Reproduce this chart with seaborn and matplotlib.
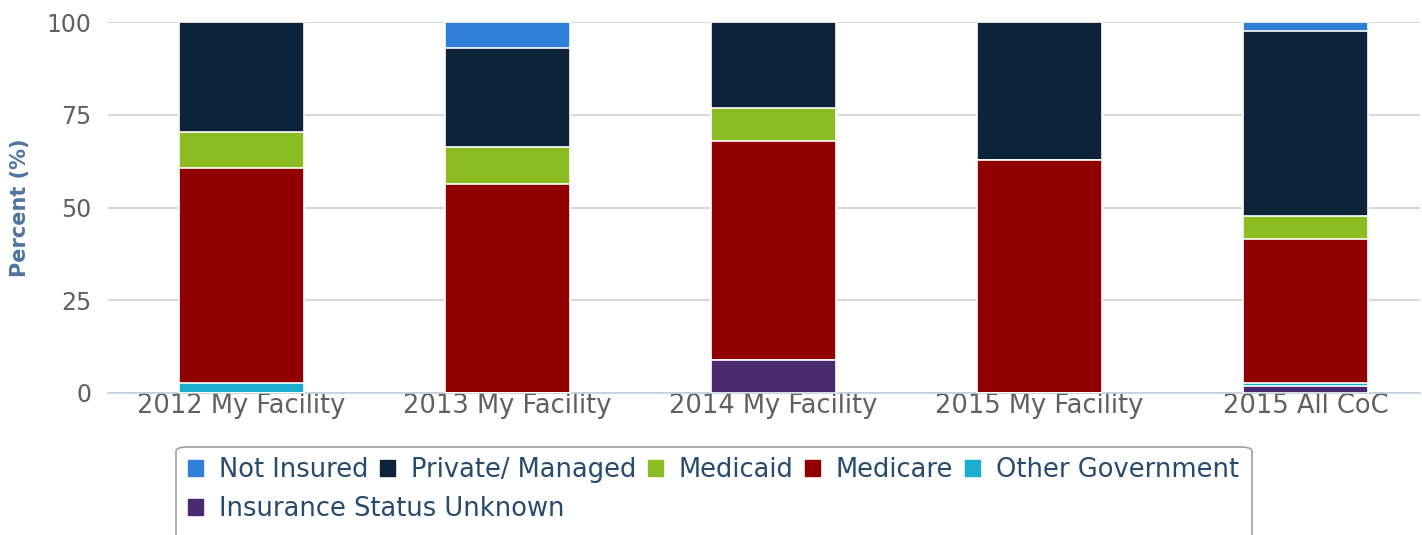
import matplotlib
matplotlib.use("Agg")
import matplotlib.pyplot as plt
import seaborn as sns
import numpy as np
import pandas as pd
from matplotlib.patches import Patch, FancyBboxPatch

categories = ["2012 My Facility", "2013 My Facility", "2014 My Facility",
              "2015 My Facility", "2015 All CoC"]

# series, in legend order (top of the stack first)
not_insured = [0.0, 6.9, 0.0, 0.0, 2.3]
private_managed = [29.6, 26.7, 23.1, 37.2, 49.9]
medicaid = [9.7, 10.1, 9.0, 0.0, 6.1]
medicare = [58.0, 56.3, 58.9, 62.8, 39.0]
other_government = [2.7, 0.0, 0.0, 0.0, 0.7]
status_unknown = [0.0, 0.0, 9.0, 0.0, 1.9]

series_names = ["Not Insured", "Private/ Managed", "Medicaid", "Medicare",
                "Other Government", "Insurance Status Unknown"]
colors = ["#2f7ed8", "#0d233a", "#8bbc21", "#910000", "#1aadce", "#492970"]

df = pd.DataFrame({
    "category": categories,
    "Not Insured": not_insured,
    "Private/ Managed": private_managed,
    "Medicaid": medicaid,
    "Medicare": medicare,
    "Other Government": other_government,
    "Insurance Status Unknown": status_unknown,
})

sns.set_style("white")
plt.rcParams["font.family"] = ["DejaVu Sans"]

fig = plt.figure(figsize=(14.22, 5.35), dpi=100)
ax = fig.add_axes([108 / 1422, 1 - 393 / 535, (1420 - 108) / 1422, (393 - 22) / 535])

# stacked bars: draw cumulative totals from the top series down
for i, name in enumerate(series_names):
    cum = df[series_names[i:]].sum(axis=1)
    sns.barplot(x=df["category"], y=cum, color=colors[i], width=0.47,
                edgecolor="white", linewidth=1.2, saturation=1, ax=ax, zorder=3)

ax.set_ylim(0, 100)
ax.set_xlim(-0.5, 4.43)
ax.set_yticks([0, 25, 50, 75, 100])
ax.yaxis.grid(True, color="#d8d8d8", linewidth=1.5, zorder=0)
ax.set_axisbelow(True)
for s in ["left", "right", "top"]:
    ax.spines[s].set_visible(False)
ax.spines["bottom"].set_color("#c0d0e0")
ax.spines["bottom"].set_linewidth(1.2)

ax.set_xticks(range(len(categories)))
ax.set_xticklabels(categories)
ax.set_xticks([0.5, 1.5, 2.5, 3.5], minor=True)
ax.tick_params(axis="x", which="major", length=0, pad=0, labelsize=18.5, labelcolor="#606060")
ax.tick_params(axis="x", which="minor", length=6, color="#c0d0e0", width=1.2)
ax.tick_params(axis="y", length=0, pad=12, labelsize=17, labelcolor="#606060")
ax.set_xlabel("")
ax.set_ylabel("Percent (%)", fontsize=15, fontweight="bold", color="#4d759e", labelpad=12)

# legend box
box = FancyBboxPatch((176 / 1422, 1 - 560 / 535), (1252 - 176) / 1422, (560 - 447) / 535,
                     boxstyle="round,pad=0,rounding_size=0.008", transform=fig.transFigure,
                     facecolor="white", edgecolor="#a0a0a0", linewidth=1.2)
fig.patches.append(box)

handles = [Patch(facecolor=c, edgecolor=c) for c in colors]
leg_kw = dict(frameon=False, loc="center left", fontsize=18.5, handlelength=0.6,
              handleheight=0.6, handletextpad=0.6, borderpad=0, borderaxespad=0)
leg1 = fig.legend(handles[:5], series_names[:5], ncol=5, columnspacing=0.45,
                  bbox_to_anchor=(188 / 1422, 1 - 470 / 535), **leg_kw)
leg2 = fig.legend(handles[5:], series_names[5:],
                  bbox_to_anchor=(188 / 1422, 1 - 509 / 535), **leg_kw)
for leg in (leg1, leg2):
    for t in leg.get_texts():
        t.set_color("#274b6d")

fig.savefig("out.png", dpi=100)
